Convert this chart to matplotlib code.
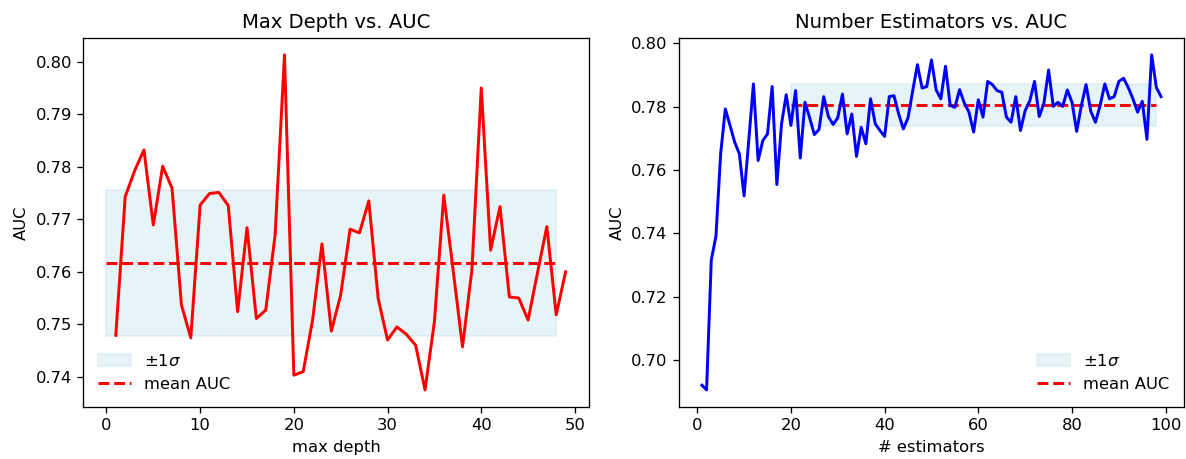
import matplotlib
matplotlib.use("Agg")
import matplotlib.pyplot as plt
import numpy as np

# ---- data ----
depth = list(range(1, 50))
depth_auc = [0.7479, 0.7743, 0.7792, 0.7832, 0.7689, 0.7801, 0.7759, 0.7537, 0.7474, 0.7727,
             0.7749, 0.7751, 0.7726, 0.7524, 0.7684, 0.7511, 0.7527, 0.7670, 0.8013, 0.7403,
             0.7410, 0.7508, 0.7653, 0.7487, 0.7556, 0.7681, 0.7674, 0.7735, 0.7549, 0.7470,
             0.7495, 0.7481, 0.7460, 0.7375, 0.7505, 0.7746, 0.7603, 0.7457, 0.7603, 0.7950,
             0.7641, 0.7724, 0.7552, 0.7550, 0.7508, 0.7598, 0.7686, 0.7518, 0.7600]
depth_mean = 0.7616
depth_std = 0.0139
depth_band = [0, 48]

n_est = list(range(1, 100))
est_auc = [0.6920, 0.6905, 0.7315, 0.7391, 0.7651, 0.7793, 0.7741, 0.7688, 0.7651, 0.7518,
           0.7693, 0.7872, 0.7630, 0.7693, 0.7714, 0.7864, 0.7554, 0.7746, 0.7838, 0.7741,
           0.7851, 0.7638, 0.7814, 0.7765, 0.7712, 0.7728, 0.7832, 0.7769, 0.7744, 0.7765,
           0.7840, 0.7714, 0.7777, 0.7643, 0.7735, 0.7683, 0.7825, 0.7746, 0.7725, 0.7706,
           0.7832, 0.7835, 0.7777, 0.7730, 0.7765, 0.7851, 0.7933, 0.7859, 0.7864, 0.7948,
           0.7853, 0.7825, 0.7928, 0.7804, 0.7798, 0.7854, 0.7812, 0.7783, 0.7720, 0.7822,
           0.7767, 0.7880, 0.7870, 0.7851, 0.7846, 0.7767, 0.7751, 0.7832, 0.7725, 0.7788,
           0.7819, 0.7880, 0.7769, 0.7811, 0.7916, 0.7801, 0.7814, 0.7801, 0.7853, 0.7814,
           0.7722, 0.7804, 0.7870, 0.7786, 0.7751, 0.7804, 0.7872, 0.7825, 0.7832, 0.7880,
           0.7890, 0.7861, 0.7825, 0.7783, 0.7817, 0.7697, 0.7964, 0.7861, 0.7832]
est_mean = 0.7806
est_std = 0.0066
est_band = [20, 98]

DPI = 118
fig, (ax1, ax2) = plt.subplots(1, 2, figsize=(1186 / DPI, 459 / DPI), dpi=DPI)
fig.subplots_adjust(left=0.0704, right=0.9983, bottom=0.114, top=0.917, wspace=0.179)


def draw(ax, x, y, color, mean, std, band, title, xlabel, loc):
    bx = np.array(band)
    ax.fill_between(bx, mean - std, mean + std, color="lightblue", alpha=0.3, label=r"$\pm 1\sigma$")
    ax.plot(bx, [mean, mean], "r--", lw=1.8, label="mean AUC")
    ax.plot(x, y, color=color, lw=1.8)
    ax.set_title(title, fontsize=12)
    ax.set_xlabel(xlabel)
    ax.set_ylabel("AUC")
    ax.legend(loc=loc, frameon=False)


draw(ax1, depth, depth_auc, "red", depth_mean, depth_std, depth_band,
     "Max Depth vs. AUC", "max depth", "lower left")
draw(ax2, n_est, est_auc, "blue", est_mean, est_std, est_band,
     "Number Estimators vs. AUC", "# estimators", "lower right")

fig.savefig("out.png", dpi=DPI)
